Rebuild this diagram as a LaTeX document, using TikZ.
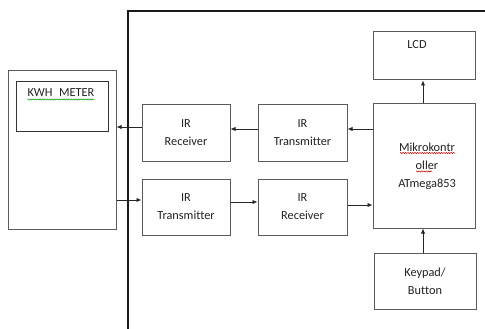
\documentclass[tikz,border=0pt]{standalone}
\usepackage{fontspec}
\setmainfont{Carlito}[Ligatures=NoCommon]
\usetikzlibrary{arrows.meta,decorations.pathmorphing}
\definecolor{boxline}{HTML}{5A5A5A}
\definecolor{txt}{HTML}{222222}
\tikzset{
  blk/.style={draw=boxline, line width=1pt, minimum width=#1, inner sep=0pt, align=center, text=txt, font=\fontsize{12.3}{18}\selectfont},
  arr/.style={draw=black!85, line width=0.9pt, -{Latex[length=5pt,width=4.5pt]}},
  lbl/.style={inner sep=0pt, text=txt, font=\fontsize{12.3}{18}\selectfont, align=center},
  sq/.style={line width=0.5pt, decorate, decoration={snake, amplitude=0.6pt, segment length=2.4pt}}
}
\begin{document}
\begin{tikzpicture}[x=1pt,y=-1pt]
\useasboundingbox (0,0) rectangle (485,329);
\fill[white] (0,0) rectangle (485,329);
% frame
\draw[line width=2.6pt, black!90] (128,329) -- (128,11) -- (486,11);
% KWH meter
\node[blk=108pt, minimum height=158pt] (kwh) at (62,150) {};
\node[blk=92pt, minimum height=49pt, draw=black!80] (kwhin) at (62,106.5) {};
\node[lbl] (kwhtxt) at (61,93) {KWH\hspace{0.55em}METER};
\draw[sq, green!60!black] ([yshift=-2.5pt]kwhtxt.base west) -- ([yshift=-2.5pt]kwhtxt.base east);
% IR boxes
\node[blk=88pt, minimum height=56pt] (rx1) at (186,133) {IR\\Receiver};
\node[blk=89pt, minimum height=56pt] (tx1) at (302.5,133) {IR\\Transmitter};
\node[blk=88pt, minimum height=56pt] (tx2) at (186,207) {IR\\Transmitter};
\node[blk=89pt, minimum height=56pt] (rx2) at (302.5,207) {IR\\Receiver};
% MCU
\node[blk=102pt, minimum height=124pt] (mcu) at (424,166) {};
\node[lbl] (mcutxt) at (427,166) {Mikrokontr\\oller\\ATmega853};
\draw[sq, red!80!black] (400,153) -- (455,153);
\draw[sq, red!80!black] (416,171.5) -- (432,171.5);
% LCD
\node[blk=102pt, minimum height=48pt] (lcd) at (424,56) {};
\node[lbl] (lcdtxt) at (417,45) {LCD};
% Keypad
\node[blk=102pt, minimum height=56pt] (key) at (425,281) {Keypad/\\Button};
% arrows
\draw[arr] (mcu.west |- 0,129) -- (tx1.east |- 0,129);
\draw[arr] (tx1.west |- 0,129) -- (rx1.east |- 0,129);
\draw[arr] (rx1.west |- 0,127) -- (kwh.east |- 0,127);
\draw[arr] (kwh.east |- 0,200) -- (tx2.west |- 0,200);
\draw[arr] (tx2.east |- 0,202) -- (rx2.west |- 0,202);
\draw[arr] (rx2.east |- 0,205) -- (mcu.west |- 0,205);
\draw[arr] (mcu.north -| 423,0) -- (lcd.south -| 423,0);
\draw[arr] (key.north -| 423,0) -- (mcu.south -| 423,0);
\end{tikzpicture}
\end{document}
